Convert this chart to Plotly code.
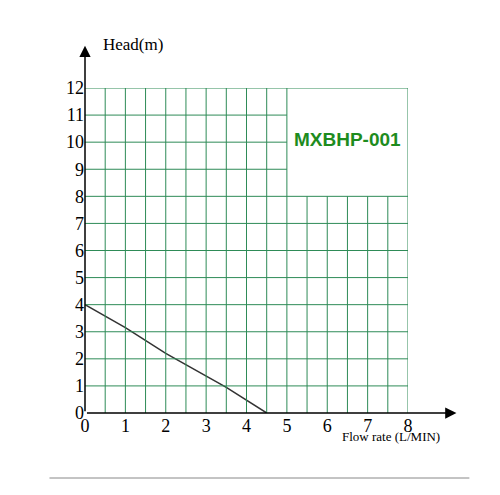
import plotly.graph_objects as go

flow = [0, 1, 2, 3, 3.5, 4.5]
head = [4, 3.15, 2.2, 1.35, 0.95, 0]
x_ticks = [0, 1, 2, 3, 4, 5, 6, 7, 8]
y_ticks = list(range(13))
model = "MXBHP-001"

green = "#2e8b57"
serif = "Liberation Serif"

fig = go.Figure()
fig.add_trace(go.Scatter(x=flow, y=head, mode="lines",
                         line=dict(color="#333", width=1.5), hoverinfo="skip"))

shapes = []
# vertical grid every 0.5; beyond x=5 only up to y=8
for i in range(1, 16):
    xv = i * 0.5
    top = 12 if xv <= 5 else 8
    shapes.append(dict(type="line", x0=xv, x1=xv, y0=0, y1=top,
                       line=dict(color=green, width=1)))
shapes.append(dict(type="line", x0=8, x1=8, y0=0, y1=12, line=dict(color=green, width=1)))
for yv in range(1, 13):
    right = 8 if yv <= 8 or yv == 12 else 5
    shapes.append(dict(type="line", x0=0, x1=right, y0=yv, y1=yv,
                       line=dict(color=green, width=1)))
# bottom rule
shapes.append(dict(type="line", xref="paper", yref="paper", x0=-0.11, x1=1.19,
                   y0=-0.2, y1=-0.2, line=dict(color="#888", width=1)))
fig.update_layout(shapes=shapes)

# axis arrows (tails at the origin, in pixels)
fig.add_annotation(x=1.15, y=0, xref="paper", yref="paper", ax=-371, ay=0,
                   showarrow=True, arrowhead=2, arrowsize=1.5, arrowwidth=1.5,
                   arrowcolor="black", text="")
fig.add_annotation(x=0, y=1.13, xref="paper", yref="paper", ax=0, ay=367,
                   showarrow=True, arrowhead=2, arrowsize=1.5, arrowwidth=1.5,
                   arrowcolor="black", text="")
fig.add_annotation(x=0.05, y=1.17, xref="paper", yref="paper", showarrow=False,
                   xanchor="left", text="Head(m)", font=dict(family=serif, size=17, color="black"))
fig.add_annotation(x=0.79, y=-0.1, xref="paper", yref="paper", showarrow=False,
                   xanchor="left", text="Flow rate (L/MIN)",
                   font=dict(family=serif, size=13, color="black"))
fig.add_annotation(x=6.5, y=10.1, showarrow=False, text="<b>" + model + "</b>",
                   font=dict(family="Liberation Sans", size=19, color="#1e8c1e"))

fig.update_xaxes(range=[0, 8], tickvals=x_ticks, showgrid=False, zeroline=False,
                 showline=False, ticks="", tickfont=dict(family=serif, size=18, color="black"))
fig.update_yaxes(range=[0, 12], tickvals=y_ticks, showgrid=False, zeroline=False,
                 showline=False, ticks="", tickfont=dict(family=serif, size=18, color="black"))
fig.update_layout(width=500, height=495, margin=dict(l=77, r=100, t=80, b=90),
                  plot_bgcolor="white", paper_bgcolor="white", showlegend=False)
fig.write_html("out.html")
